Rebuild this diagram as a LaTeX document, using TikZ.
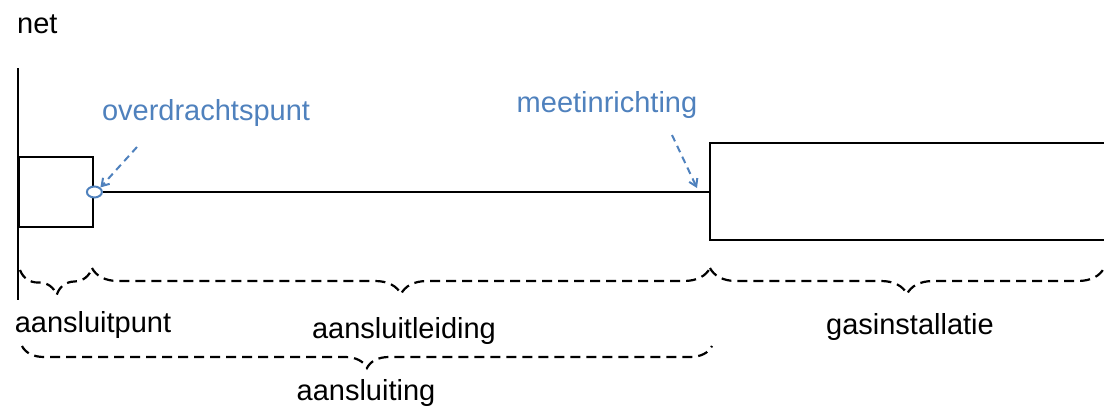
\documentclass[tikz,border=0pt]{standalone}
\usepackage{fontspec}
\setmainfont{Liberation Sans}
\usetikzlibrary{positioning, shapes.geometric, decorations.pathreplacing, arrows.meta}
\definecolor{my_blue}{RGB}{79, 129, 189}
\tikzset {
  txt/.style = {font=\fontsize{29}{33}\selectfont, inner sep=0pt, text=black},
  bluetxt/.style = {txt, text=my_blue},
  pipe/.style = {line width=2.4pt, color=black},
  smallbox/.style = {draw, line width=2.4pt, rectangle, minimum width=74pt, minimum height=70pt, anchor=west, inner sep=0pt},
  point/.style = {draw=my_blue, line width=2pt, ellipse, fill=white, minimum width=15pt, minimum height=11pt, inner sep=0pt},
  pointer/.style = {-{Straight Barb[length=7pt, width=9pt]}, line width=2pt, color=my_blue, dash pattern=on 7pt off 5pt},
  bracket/.style 2 args = {decorate, decoration={brace, mirror, amplitude=#1}, line width=2.2pt, dash pattern=on 10pt off 6pt, #2}
}

\begin{document}
\begin{tikzpicture}[x=1pt, y=-1pt]
    \useasboundingbox (0,0) rectangle (1104,415);
    % net side
    \node[txt, anchor=west] (net) at (17,24) {net};
    \coordinate (nettop) at (18,68);
    \coordinate (netbot) at (18,300);
    \draw[pipe] (nettop) -- (netbot);
    \node[smallbox] (box) at (18,192) {};
    \node[point] (op) at (box.east) {};
    % meter and installation
    \coordinate (meter) at (710,192);
    \draw[pipe] (1108,143) -| (710,240) -- (1108,240);
    \draw[pipe] (op.east) -- (meter);
    % blue labels
    \node[bluetxt] (optxt) at (206,113) {overdrachtspunt};
    \node[bluetxt] (metxt) at (607,105) {meetinrichting};
    \coordinate (opfrom) at (137,147);
    \coordinate (mefrom) at (672,135);
    \draw[pointer] (opfrom) -- (op.north east);
    \draw[pointer] (mefrom) -- (697,188);
    % braces
    \coordinate (b0) at (20,270);
    \coordinate (b1) at (92,268);
    \coordinate (b2) at (710,268);
    \coordinate (b3) at (1104,268);
    \draw[bracket={26pt}{}] (b0) -- (b1);
    \draw[bracket={26pt}{}] (b1) -- (b2);
    \draw[bracket={26pt}{}] (b2) -- (b3);
    \coordinate (c0) at (22,346);
    \coordinate (c1) at (712,346);
    \draw[bracket={22pt}{}] (c0) -- (c1);
    % brace labels
    \node[txt] (punt) at (93,325) {aansluitpunt};
    \node[txt] (leiding) at (404,331) {aansluitleiding};
    \node[txt] (gas) at (910,327) {gasinstallatie};
    \node[txt] (aansl) at (366,393) {aansluiting};
\end{tikzpicture}
\end{document}
